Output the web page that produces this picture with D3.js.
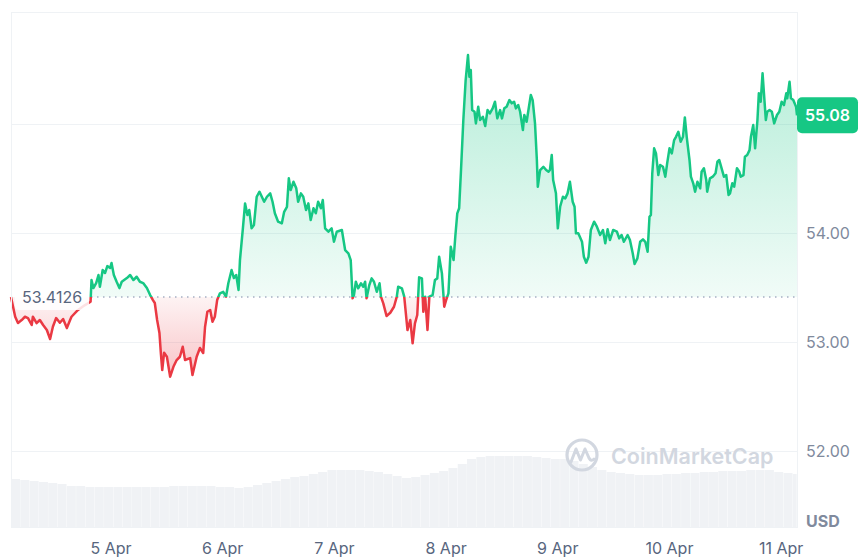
<!DOCTYPE html>
<html>
<head>
<meta charset="utf-8">
<script src="https://cdn.jsdelivr.net/npm/d3@7"></script>
<style>
  html, body { margin: 0; padding: 0; background: #ffffff; }
  svg { display: block; font-family: Inter, "Noto Sans", sans-serif; }
</style>
</head>
<body>
<svg id="chart" width="862" height="559"></svg>
<script>
// ---------- DATA ----------
const startTime = Date.UTC(2024, 3, 4, 2, 37); // 4 Apr 02:37 UTC
const endHour = 168.9;
const baseline = 53.4126;
const lastPrice = 55.08;

// hours since start
const hours = [0,0.9,1.5,2.3,3.0,3.65,4.45,4.7,5.5,6.2,6.9,7.7,8.4,9.0,9.7,10.5,11.2,12.0,12.7,13.0,14.4,15.9,17.1,17.3,17.7,18.3,18.8,19.1,19.7,20.2,20.7,21.3,21.6,22.1,22.7,23.3,23.8,24.9,25.6,26.3,27.0,27.7,28.4,29.2,29.9,30.5,30.9,31.4,31.9,32.2,32.5,32.9,33.5,34.2,34.9,35.6,36.3,36.9,37.4,38.5,39.0,39.9,40.6,41.3,41.7,42.2,42.8,43.3,43.8,44.3,44.9,45.6,46.2,46.7,47.4,47.9,48.4,48.9,49.2,49.8,50.3,50.8,51.2,51.7,52.2,52.8,53.4,53.9,54.4,55.0,55.7,56.2,56.7,57.4,58.2,58.7,59.3,59.7,60.1,60.7,61.3,61.7,62.3,62.8,63.4,63.9,64.4,65.0,65.5,66.0,66.6,67.0,67.5,68.2,68.9,69.4,70.0,71.1,71.8,72.5,73.0,73.4,73.7,74.1,74.6,75.2,75.7,76.1,76.4,77.0,77.5,78.0,78.6,79.2,79.5,80.0,80.7,81.5,82.3,82.9,83.2,84.0,84.5,85.2,85.8,86.3,86.8,87.3,87.7,88.3,88.6,89.0,89.5,89.9,90.6,91.1,91.6,92.0,92.6,93.1,93.5,94.0,94.5,95.1,95.5,95.9,96.3,96.7,97.2,97.7,98.2,98.5,98.8,99.1,99.6,99.9,100.4,100.8,101.4,101.9,102.4,102.9,103.5,104.0,104.5,105.1,105.5,106.0,106.5,107.1,107.6,108.1,108.5,109.0,109.4,110.0,110.3,110.8,111.3,111.7,112.1,112.6,113.0,113.2,113.7,114.4,115.0,115.5,115.8,116.2,116.5,117.1,117.5,118.0,118.6,119.1,119.6,120.1,120.7,121.1,121.4,121.9,122.7,123.1,123.6,124.1,124.6,125.3,125.9,126.6,127.2,127.7,128.2,128.7,129.4,130.2,130.7,131.2,131.7,132.5,133.0,133.6,134.0,134.6,135.2,135.8,136.3,136.8,137.2,137.5,137.8,138.2,138.6,139.1,139.5,140.1,140.6,141.0,141.5,142.0,142.5,142.9,143.4,143.9,144.4,144.8,145.2,145.8,146.1,146.6,147.0,147.5,148.1,148.4,148.9,149.4,149.6,150.2,150.8,151.4,151.8,152.2,152.7,153.2,153.7,154.2,154.5,155.0,155.4,156.0,156.5,156.8,157.4,157.7,158.2,158.7,159.0,159.5,159.9,160.4,160.7,161.1,161.5,161.8,162.2,162.5,163.0,163.5,164.0,164.6,165.1,165.6,166.1,166.6,166.8,167.3,167.6,168.1,168.7,168.9];

const prices = [53.4126,53.232,53.174,53.202,53.232,53.220,53.156,53.232,53.174,53.202,53.156,53.110,53.028,53.140,53.220,53.177,53.211,53.128,53.202,53.232,53.294,53.339,53.370,53.569,53.495,53.541,53.615,53.507,53.661,53.633,53.697,53.679,53.725,53.615,53.553,53.495,53.553,53.587,53.615,53.569,53.599,53.553,53.541,53.495,53.431,53.385,53.358,53.202,53.083,52.899,52.743,52.902,52.865,52.682,52.773,52.835,52.865,52.957,52.835,52.853,52.697,52.865,52.945,52.899,53.140,53.278,53.294,53.186,53.232,53.385,53.447,53.461,53.416,53.539,53.661,53.587,53.615,53.477,53.752,54.028,54.272,54.165,54.211,54.043,54.073,54.333,54.379,54.333,54.287,54.333,54.364,54.287,54.181,54.104,54.089,54.195,54.241,54.502,54.394,54.471,54.410,54.287,54.364,54.333,54.211,54.272,54.119,54.227,54.181,54.287,54.227,54.303,54.043,54.012,54.043,53.920,54.012,54.028,53.844,53.814,53.752,53.401,53.431,53.553,53.493,53.539,53.507,53.553,53.401,53.523,53.584,53.553,53.461,53.539,53.416,53.355,53.239,53.269,53.324,53.416,53.507,53.493,53.416,53.110,53.202,52.988,53.172,53.248,53.594,53.584,53.278,53.416,53.110,53.416,53.431,53.569,53.584,53.783,53.630,53.324,53.385,53.447,53.874,53.752,53.982,54.181,54.227,54.578,55.037,55.404,55.633,55.434,55.495,55.128,55.113,55.006,55.159,55.037,55.067,54.982,55.128,55.098,55.144,55.205,55.052,55.128,55.052,55.144,55.159,55.220,55.190,55.205,55.144,55.174,55.113,54.945,55.083,55.021,55.159,55.266,55.220,55.006,54.670,54.425,54.578,54.608,54.578,54.562,54.578,54.716,54.486,54.364,54.043,54.241,54.333,54.318,54.364,54.471,54.287,54.241,53.997,53.997,53.920,53.783,53.728,53.783,54.028,54.104,54.058,53.982,54.028,53.906,54.034,53.936,54.028,54.012,53.951,53.982,53.920,53.982,53.936,53.814,53.716,53.768,53.920,53.942,53.920,53.828,54.150,54.165,54.548,54.777,54.731,54.532,54.624,54.608,54.517,54.639,54.777,54.731,54.853,54.883,54.929,54.838,54.883,55.061,54.883,54.670,54.517,54.456,54.379,54.471,54.410,54.562,54.594,54.486,54.379,54.502,54.517,54.548,54.654,54.670,54.594,54.517,54.532,54.349,54.364,54.456,54.425,54.594,54.562,54.517,54.532,54.700,54.716,54.761,54.883,54.991,54.777,55.037,55.282,55.205,55.465,55.282,55.037,55.113,55.128,55.113,55.006,55.083,55.113,55.205,55.174,55.282,55.236,55.388,55.236,55.220,55.159,55.08];

// volume, one bar every 2 hours (relative units)
const volumes = [48,47,46,45,44,43,41,41,40,40,40,40,40,40,40,40,40,41,41,41,41,41,40,40,39,40,42,44,46,48,50,51,53,55,57,57,57,57,56,55,53,51,49,50,52,54,56,59,63,68,70,71,71,71,71,71,70,69,68,68,66,63,60,57,55,54,53,52,52,52,53,53,54,54,55,55,56,56,56,57,57,57,55,54,53];
const volStepHours = 2;

const gridTicks = [52, 53, 54, 55];
const labelTicks = [52, 53, 54];   // 55.00 is hidden behind the price tag
const dayTicks = [5, 6, 7, 8, 9, 10, 11];

// ---------- SETUP ----------
const plot = { left: 11, right: 797, top: 12, bottom: 527 };
const svg = d3.select("#chart");
const HOUR = 3600e3;

const data = hours.map((h, i) => ({ t: new Date(startTime + h * HOUR), v: prices[i] }));

const x = d3.scaleUtc()
  .domain([new Date(startTime), new Date(startTime + endHour * HOUR)])
  .range([plot.left, plot.right]);
const y = d3.scaleLinear().domain([51.303, 56.028]).range([plot.bottom, plot.top]);
const yVol = d3.scaleLinear().domain([0, 100]).range([plot.bottom, plot.bottom - 100]);

const yBase = y(baseline);
const green = "#16c784", red = "#ea3943";

const defs = svg.append("defs");
defs.append("clipPath").attr("id", "clipUp").append("rect")
  .attr("x", 0).attr("y", 0).attr("width", plot.right + 2).attr("height", yBase);
defs.append("clipPath").attr("id", "clipDown").append("rect")
  .attr("x", 0).attr("y", yBase).attr("width", plot.right + 2).attr("height", plot.bottom - yBase);

const gUp = defs.append("linearGradient").attr("id", "gUp").attr("gradientUnits", "userSpaceOnUse")
  .attr("x1", 0).attr("x2", 0).attr("y1", y(d3.max(prices))).attr("y2", yBase);
gUp.append("stop").attr("offset", 0).attr("stop-color", green).attr("stop-opacity", 0.32);
gUp.append("stop").attr("offset", 1).attr("stop-color", green).attr("stop-opacity", 0.06);
const gDown = defs.append("linearGradient").attr("id", "gDown").attr("gradientUnits", "userSpaceOnUse")
  .attr("x1", 0).attr("x2", 0).attr("y1", yBase).attr("y2", y(d3.min(prices)));
gDown.append("stop").attr("offset", 0).attr("stop-color", red).attr("stop-opacity", 0.06);
gDown.append("stop").attr("offset", 1).attr("stop-color", red).attr("stop-opacity", 0.3);

// ---------- GRID ----------
svg.append("g").selectAll("line").data(gridTicks).join("line")
  .attr("x1", plot.left).attr("x2", plot.right)
  .attr("y1", d => Math.round(y(d)) + 0.5).attr("y2", d => Math.round(y(d)) + 0.5)
  .attr("stroke", "#eff2f5").attr("stroke-width", 1);

// ---------- VOLUME ----------
svg.append("g").selectAll("rect").data(volumes).join("rect")
  .attr("x", (d, i) => x(new Date(startTime + i * volStepHours * HOUR)))
  .attr("width", (d, i) => {
    const x0 = x(new Date(startTime + i * volStepHours * HOUR));
    const x1 = Math.min(plot.right, x(new Date(startTime + (i + 1) * volStepHours * HOUR)));
    return Math.max(0, x1 - x0 - 0.3);
  })
  .attr("y", d => yVol(d))
  .attr("height", d => plot.bottom - yVol(d))
  .attr("fill", "#f0f2f5");

// ---------- WATERMARK ----------
const wm = svg.append("g");
wm.append("circle").attr("cx", 582).attr("cy", 455).attr("r", 15)
  .attr("fill", "none").attr("stroke", "#d2d7e0").attr("stroke-width", 3.2);
wm.append("path")
  .attr("d", "M571,462 L576,449 L580.5,460 L585,449 L589,458 Q591,462 594,459")
  .attr("fill", "none").attr("stroke", "#d2d7e0").attr("stroke-width", 3)
  .attr("stroke-linejoin", "round").attr("stroke-linecap", "round");
wm.append("text").attr("x", 611).attr("y", 463.5)
  .attr("font-size", 21.5).attr("font-weight", 600).attr("fill", "#d2d7e0")
  .text("CoinMarketCap");

// ---------- AREAS ----------
const area = d3.area().x(d => x(d.t)).y0(yBase).y1(d => y(d.v));
svg.append("path").datum(data).attr("d", area).attr("fill", "url(#gUp)").attr("clip-path", "url(#clipUp)");
svg.append("path").datum(data).attr("d", area).attr("fill", "url(#gDown)").attr("clip-path", "url(#clipDown)");

// ---------- BASELINE ----------
svg.append("line")
  .attr("x1", 91).attr("x2", plot.right)
  .attr("y1", yBase).attr("y2", yBase)
  .attr("stroke", "#a6b0c3").attr("stroke-width", 1.5)
  .attr("stroke-dasharray", "1.5,4.5");

// ---------- LINES ----------
const line = d3.line().x(d => x(d.t)).y(d => y(d.v));
svg.append("path").datum(data).attr("d", line).attr("fill", "none")
  .attr("stroke", green).attr("stroke-width", 2.5).attr("stroke-linejoin", "round")
  .attr("clip-path", "url(#clipUp)");
svg.append("path").datum(data).attr("d", line).attr("fill", "none")
  .attr("stroke", red).attr("stroke-width", 2.5).attr("stroke-linejoin", "round")
  .attr("clip-path", "url(#clipDown)");

// ---------- BASELINE LABEL ----------
svg.append("rect").attr("x", 15).attr("y", yBase - 13).attr("width", 74).attr("height", 26)
  .attr("rx", 4).attr("fill", "#ffffff").attr("opacity", 0.85);
svg.append("text").attr("x", 22).attr("y", yBase).attr("dy", "0.36em")
  .attr("font-size", 16).attr("fill", "#58667e")
  .text(d3.format(".4f")(baseline));

// ---------- BORDER ----------
svg.append("rect")
  .attr("x", plot.left + 0.5).attr("y", plot.top + 0.5)
  .attr("width", plot.right - plot.left).attr("height", plot.bottom - plot.top)
  .attr("fill", "none").attr("stroke", "#eff2f5").attr("stroke-width", 1);

// ---------- Y AXIS ----------
const yAxis = d3.axisRight(y).tickValues(labelTicks).tickFormat(d3.format(".2f")).tickSize(0).tickPadding(9);
const gy = svg.append("g").attr("transform", `translate(${plot.right},0)`).call(yAxis);
gy.select(".domain").remove();
gy.selectAll("text").attr("font-size", 16).attr("fill", "#808a9d").attr("font-family", "Inter, sans-serif");

svg.append("text").attr("x", 806).attr("y", 521).attr("dy", "0.36em")
  .attr("font-size", 16).attr("font-weight", 700).attr("fill", "#808a9d").text("USD");

// ---------- X AXIS ----------
const tickDates = dayTicks.map(d => new Date(Date.UTC(2024, 3, d)));
const xAxis = d3.axisBottom(x).tickValues(tickDates).tickFormat(d3.utcFormat("%-d %b")).tickSize(0).tickPadding(0);
const gx = svg.append("g").attr("transform", `translate(0,${543})`).call(xAxis);
gx.select(".domain").remove();
gx.selectAll("text").attr("font-size", 16).attr("fill", "#58667e").attr("font-family", "Inter, sans-serif");

// ---------- PRICE TAG ----------
const yLast = y(lastPrice);
svg.append("rect").attr("x", 797).attr("y", yLast - 18).attr("width", 61).attr("height", 36)
  .attr("rx", 5).attr("fill", green);
svg.append("text").attr("x", 827.5).attr("y", yLast).attr("dy", "0.36em")
  .attr("text-anchor", "middle").attr("font-size", 16).attr("font-weight", 600)
  .attr("fill", "#ffffff").text(lastPrice.toFixed(2));
</script>
</body>
</html>
